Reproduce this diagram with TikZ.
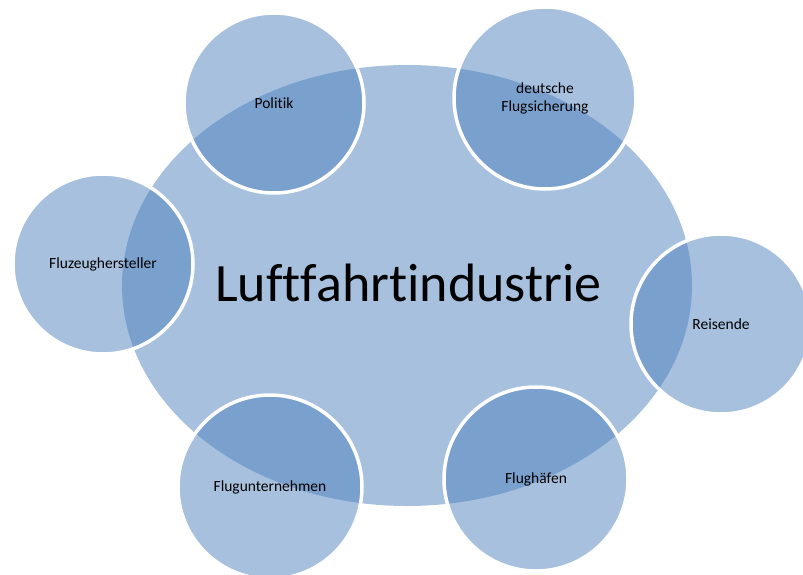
\documentclass[tikz,border=0pt]{standalone}
\usepackage{fontspec}
\setmainfont[Ligatures=NoCommon]{Carlito}
\usetikzlibrary{shapes.geometric}
\definecolor{accent}{HTML}{4F81BD}
\tikzset{
  hub/.style={ellipse, fill=accent, fill opacity=0.5,
    minimum width=570pt, minimum height=441pt, inner sep=0pt},
  hubtitle/.style={anchor=base, inner sep=0pt,
    font=\fontsize{54}{60}\selectfont},
  actor/.style={circle, fill=accent, fill opacity=0.5, text opacity=1,
    draw=white, draw opacity=1, line width=3.5pt,
    minimum size=#1, inner sep=0pt, align=center,
    font=\fontsize{15.5}{18}\selectfont},
  actor/.default=180pt
}
\begin{document}
\begin{tikzpicture}[x=1pt,y=-1pt]
  \useasboundingbox (0,0) rectangle (803,575);
  \clip (0,0) rectangle (803,575);
  % central sector
  \node[hub] (industry) at (407,285.5) {};
  \node[hubtitle] (title) at (408.5,301) {Luftfahrtindustrie};
  % stakeholders around it
  \node[actor] (politik) at (274,103) {Politik};
  \node[actor=182pt] (dfs) at (545,98) {deutsche\\Flugsicherung};
  \node[actor] (hersteller) at (103,264) {Fluzeughersteller};
  \node[actor] (reisende) at (721,324) {Reisende};
  \node[actor=184pt] (airlines) at (270,487) {Flugunternehmen};
  \node[actor=184pt] (airports) at (536,479) {Flughäfen};
\end{tikzpicture}
\end{document}
